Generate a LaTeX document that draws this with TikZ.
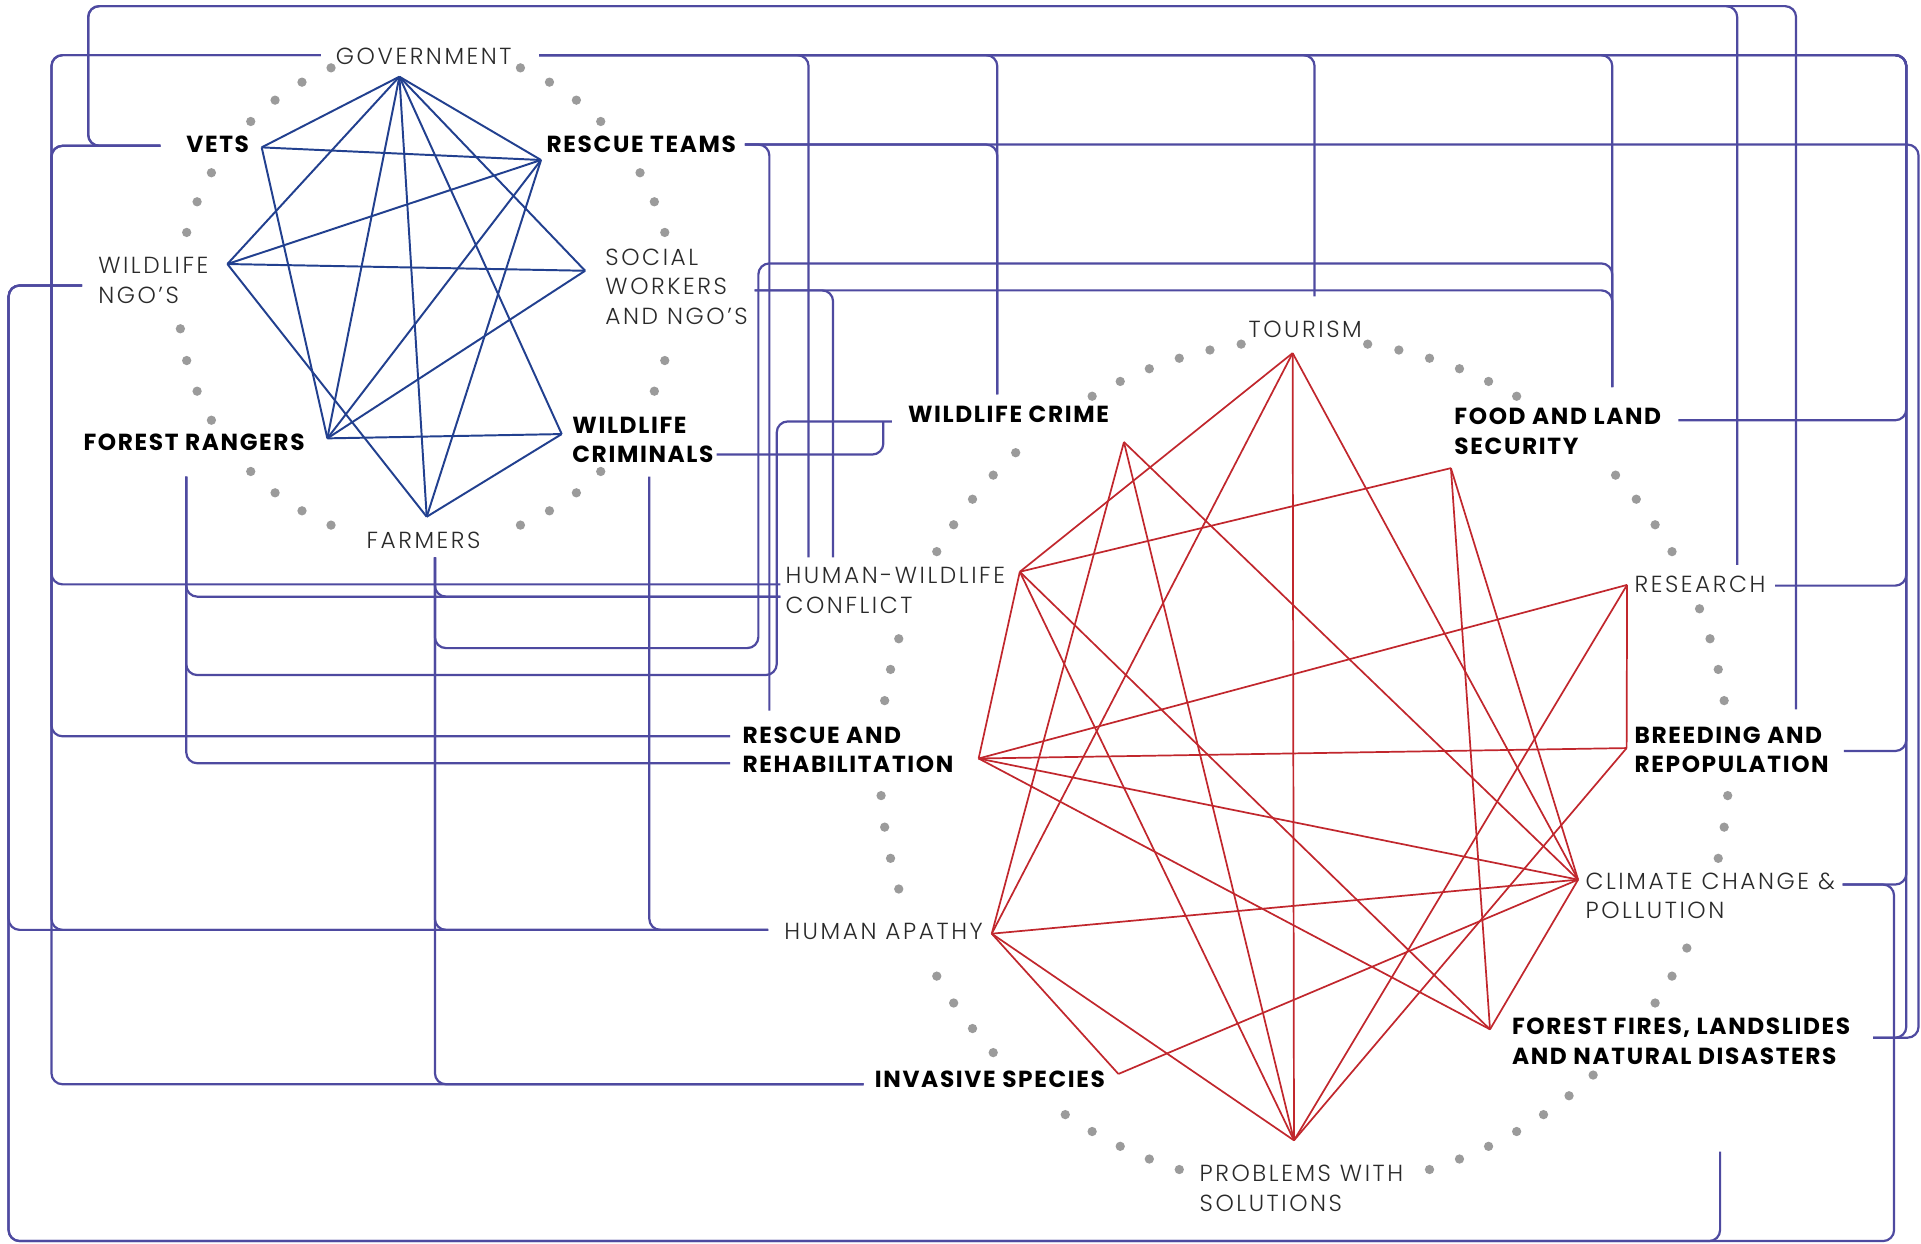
\documentclass[tikz,border=0pt]{standalone}
\usepackage{fontspec}
\IfFontExistsTF{Poppins Light}
  {\newfontfamily\thinlab{Poppins Light}[LetterSpace=11]}
  {\newfontfamily\thinlab{Poppins}[LetterSpace=11]}
\IfFontExistsTF{Poppins Bold}
  {\newfontfamily\heavylab{Poppins Bold}[LetterSpace=7]}
  {\newfontfamily\heavylab{Poppins SemiBold}[LetterSpace=8]}
\usetikzlibrary{calc}

\definecolor{linkpurple}{HTML}{4E4AA0}
\definecolor{webblue}{HTML}{22408F}
\definecolor{webred}{HTML}{C1272D}
\definecolor{dotgray}{HTML}{9B9B9B}
\definecolor{labgray}{HTML}{2A2A2A}

\begin{document}
\begin{tikzpicture}
[x=1pt,y=-1pt,
 lab/.style={font=\thinlab\fontsize{19}{24}\selectfont,text=labgray,inner sep=0pt,anchor=west,align=left},
 blab/.style={lab,font=\heavylab\fontsize{19}{24}\selectfont,text=black},
 link/.style={draw=linkpurple,line width=1.8pt,rounded corners=9pt},
 bweb/.style={draw=webblue,line width=1.6pt},
 rweb/.style={draw=webred,line width=1.4pt}]
\useasboundingbox (0,0) rectangle (1568,1015);
%
% dotted rings
\foreach \n in {2,3,4,6,7,8,9,15,16,17,18,20,21,22,25,26,27,28,30,31,32,33,39,40,41,42,45,46}
  \fill[dotgray] ({347.5+202*cos(7.5*\n)},{242-202*sin(7.5*\n)}) circle[radius=3.8pt];
\foreach \n in {2,3,4,5,7,8,9,10,14,15,16,17,18,19,23,24,25,26,27,28,31,32,33,34,35,38,39,40,43,44,45,46,49,50,51,52,55,56,57,58,59,67,68,69,70,71,72,73,76,77,78,81,82,83}
  \fill[dotgray] ({1064.7+346.5*cos(360/84*\n)},{623.5-346.5*sin(360/84*\n)}) circle[radius=3.8pt];
%
% actors
\node[lab]  (gov)   at (274,46)  {GOVERNMENT};
\node[blab] (vets)  at (152,118) {VETS};
\node[blab] (resc)  at (446,118) {RESCUE TEAMS};
\node[lab]  (wngo)  at (80,229)  {WILDLIFE\\NGO’S};
\node[lab]  (soc)   at (494,234) {SOCIAL\\WORKERS\\AND NGO’S};
\node[blab] (fr)    at (68,361)  {FOREST RANGERS};
\node[blab] (wcrim) at (467,359) {WILDLIFE\\CRIMINALS};
\node[lab]  (farm)  at (299,441) {FARMERS};
%
% problems
\node[lab]  (tour)  at (1019,269) {TOURISM};
\node[blab] (wcr)   at (741,338)  {WILDLIFE CRIME};
\node[blab] (food)  at (1187,352) {FOOD AND LAND\\SECURITY};
\node[lab]  (hwc)   at (641,482)  {HUMAN-WILDLIFE\\CONFLICT};
\node[lab]  (res)   at (1334,477) {RESEARCH};
\node[blab] (rr)    at (606,612)  {RESCUE AND\\REHABILITATION};
\node[blab] (br)    at (1334,612) {BREEDING AND\\REPOPULATION};
\node[lab]  (cl)    at (1294,731) {CLIMATE CHANGE \&\\POLLUTION};
\node[lab]  (ha)    at (640,760)  {HUMAN APATHY};
\node[blab] (ff)    at (1234,850) {FOREST FIRES, LANDSLIDES\\AND NATURAL DISASTERS};
\node[blab] (inv)   at (714,881)  {INVASIVE SPECIES};
\node[lab]  (ps)    at (979,970)  {PROBLEMS WITH\\SOLUTIONS};
%
% line ends
\coordinate (gov-l)   at ($(gov.west)+(-12,-1)$);
\coordinate (gov-r)   at ($(gov.west)+(166,-1)$);
\coordinate (vets-l)  at ($(vets.west)+(-21,1)$);
\coordinate (resc-r)  at ($(resc.west)+(162,0)$);
\coordinate (wngo-l)  at ($(wngo.west)+(-13,4)$);
\coordinate (soc-r)   at ($(soc.west)+(122,3)$);
\coordinate (fr-b)    at ($(fr.west)+(84,28)$);
\coordinate (wcrim-r) at ($(wcrim.west)+(118,12)$);
\coordinate (wcrim-b) at ($(wcrim.west)+(63,30)$);
\coordinate (farm-b)  at ($(farm.west)+(56,14)$);
\coordinate (tour-t)  at ($(tour.west)+(54,-27)$);
\coordinate (wcr-l)   at ($(wcr.west)+(-13,6)$);
\coordinate (wcr-t)   at ($(wcr.west)+(73,-16)$);
\coordinate (food-t)  at ($(food.west)+(129,-36)$);
\coordinate (food-r)  at ($(food.west)+(183,-9)$);
\coordinate (hwc-l1)  at ($(hwc.west)+(-4,-5)$);
\coordinate (hwc-l2)  at ($(hwc.west)+(-4,5)$);
\coordinate (hwc-t1)  at ($(hwc.west)+(19,-27)$);
\coordinate (hwc-t2)  at ($(hwc.west)+(39,-27)$);
\coordinate (res-t)   at ($(res.west)+(84,-16)$);
\coordinate (res-r)   at ($(res.west)+(115,1)$);
\coordinate (rr-l1)   at ($(rr.west)+(-10,-11)$);
\coordinate (rr-l2)   at ($(rr.west)+(-10,11)$);
\coordinate (rr-t)    at ($(rr.west)+(22,-32)$);
\coordinate (br-t)    at ($(br.west)+(132,-33)$);
\coordinate (br-r)    at ($(br.west)+(171,1)$);
\coordinate (cl-r)    at ($(cl.west)+(210,-9)$);
\coordinate (ha-l)    at ($(ha.west)+(-13,-1)$);
\coordinate (ff-r)    at ($(ff.west)+(295,-3)$);
\coordinate (inv-l)   at ($(inv.west)+(-9,4)$);
\coordinate (loose)   at (1404,940);
%
% rails
\coordinate (xw) at (7,0);
\coordinate (xa) at (42,0);
\coordinate (xv) at (72,0);
\coordinate (xj) at (619,0);
\coordinate (xk) at (634,0);
\coordinate (xm) at (721,0);
\coordinate (xc) at (1546,0);
\coordinate (xr) at (1556,0);
\coordinate (xs) at (1566,0);
\coordinate (ytop) at (0,5);
\coordinate (ybot) at (0,1013);
\coordinate (yfa) at (0,529);
\coordinate (yfb) at (0,215);
\coordinate (yfr) at (0,551);
%
% links
\draw[link] (vets-l) -| (xv |- ytop) -| (res-t);
\draw[link] (vets-l) -| (xv |- ytop) -| (br-t);
\draw[link] (vets-l) -| (xa |- rr-l1) -- (rr-l1);
\draw[link] (vets-l) -| (xa |- ha-l) -- (ha-l);
\draw[link] (gov-l) -| (xa |- hwc-l1) -- (hwc-l1);
\draw[link] (gov-l) -| (xa |- inv-l) -- (inv-l);
\foreach \t in {hwc-t1,wcr-t,tour-t,food-t}
  \draw[link] (gov-r) -| (\t);
\foreach \t in {food-r,res-r,br-r,cl-r,ff-r}
  \draw[link] (gov-r) -| (xr |- \t) -- (\t);
\draw[link] (resc-r) -| (rr-t);
\draw[link] (resc-r) -| (wcr-t);
\draw[link] (resc-r) -| (xs |- ff-r) -- (ff-r);
\draw[link] (wngo-l) -| (xw |- ha-l) -- (ha-l);
\draw[link] (wngo-l) -| (xw |- ybot) -| (xc |- cl-r) -- (cl-r);
\draw[link] (wngo-l) -| (xw |- ybot) -| (loose);
\draw[link] (soc-r) -| (hwc-t2);
\draw[link] (soc-r) -| (food-t);
\draw[link] (farm-b) |- (xj |- yfa) -- (xj |- yfb) -| (food-t);
\foreach \t in {hwc-l2,ha-l,inv-l}
  \draw[link] (farm-b) |- (\t);
\draw[link] (fr-b) |- (hwc-l2);
\draw[link] (fr-b) |- (xk |- yfr) -- (xk |- wcr-l) -- (wcr-l);
\draw[link] (fr-b) |- (rr-l2);
\draw[link] (wcrim-r) -| (xm |- wcr-l);
\draw[link] (wcrim-b) |- (ha-l);
%
% actor web
\coordinate (b-gov)   at (326,62.6);
\coordinate (b-vets)  at (213.6,120.3);
\coordinate (b-resc)  at (441.6,130.6);
\coordinate (b-wngo)  at (185.6,215.5);
\coordinate (b-soc)   at (477.6,221);
\coordinate (b-fr)    at (267.2,357.8);
\coordinate (b-wcrim) at (458.5,354.3);
\coordinate (b-farm)  at (348.3,421.8);
\foreach \p/\q in {gov/vets,gov/resc,gov/wngo,gov/fr,gov/farm,gov/wcrim,gov/soc,
  vets/resc,vets/fr,resc/wngo,resc/fr,resc/farm,wngo/soc,wngo/farm,soc/fr,fr/wcrim,wcrim/farm}
  \draw[bweb] (b-\p) -- (b-\q);
%
% problem web
\coordinate (r-tour) at (1055.1,288.2);
\coordinate (r-wcr)  at (917.4,360.8);
\coordinate (r-food) at (1184.3,382.1);
\coordinate (r-hwc)  at (832.4,466.7);
\coordinate (r-res)  at (1328.1,477.4);
\coordinate (r-rr)   at (798.8,619.1);
\coordinate (r-br)   at (1327.7,610.6);
\coordinate (r-cl)   at (1288.1,718);
\coordinate (r-ha)   at (809.5,762.1);
\coordinate (r-ff)   at (1216.2,840.2);
\coordinate (r-inv)  at (912.9,876.6);
\coordinate (r-ps)   at (1056.2,930.8);
\foreach \p/\q in {tour/hwc,tour/ha,tour/ps,tour/cl,wcr/ha,wcr/ps,wcr/cl,
  food/hwc,food/ff,food/cl,hwc/rr,hwc/ff,hwc/ps,rr/res,rr/br,rr/cl,rr/ff,
  res/br,res/ps,br/ps,cl/ff,cl/ha,cl/inv,ha/inv,ha/ps}
  \draw[rweb] (r-\p) -- (r-\q);
\end{tikzpicture}
\end{document}
